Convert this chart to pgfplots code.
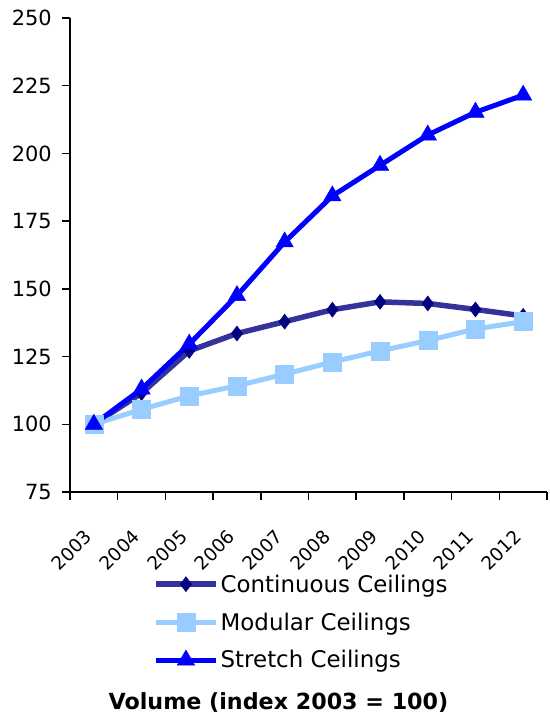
\documentclass[border=0pt]{standalone}
\usepackage{pgfplots}
\pgfplotsset{compat=1.18}
\usepackage{fontspec}
\setmainfont{DejaVu Sans}
\definecolor{contline}{HTML}{333399}
\definecolor{contmark}{HTML}{000080}
\definecolor{modcol}{HTML}{99CCFF}
\definecolor{strcol}{HTML}{0000FF}
\newcommand{\xl}[1]{\fontsize{18.5}{18.5}\selectfont #1}
\begin{document}
\begin{tikzpicture}
\begin{axis}[
  scale only axis,
  width=477bp, height=474bp,
  xmin=-0.5, xmax=9.5, ymin=75, ymax=250,
  clip=false,
  axis x line*=bottom, axis y line*=left,
  axis line style={line width=1.5bp, black, -},
  tick align=outside,
  ytick={75,100,...,250},
  yticklabels={75,100,125,150,175,200,225,250},
  xtick={0,...,9},
  xticklabels={\xl{2003},\xl{2004},\xl{2005},\xl{2006},\xl{2007},\xl{2008},\xl{2009},\xl{2010},\xl{2011},\xl{2012}},
  major x tick style={draw=none},
  minor xtick={-0.5,0.5,...,9.5},
  minor tick length=8bp, major tick length=8bp,
  tick style={line width=1.5bp, black},
  tick label style={font=\fontsize{21}{21}\selectfont},
  xticklabel style={xshift=-10.5bp, yshift=-27bp, rotate=45, anchor=north east, inner sep=1bp},
  yticklabel style={inner sep=1bp, xshift=-9bp},
  legend style={draw=none, fill=none, at={(0.174,-0.17)}, anchor=north west,
    font=\fontsize{23}{23}\selectfont, row sep=15bp, inner sep=0pt,
    /tikz/every even column/.append style={column sep=4bp}},
  legend cell align=left,
  legend image code/.code={\draw[mark repeat=2,mark phase=2,#1] plot coordinates {(0bp,0bp) (30bp,0bp) (60bp,0bp)};},
]
\addplot[color=contline, line width=5.5bp, mark=diamond*, mark size=7.5bp,
  mark options={fill=contmark, draw=contmark, line width=0.5bp}]
  coordinates {(0,100) (1,111.5) (2,127.1) (3,133.5) (4,137.9) (5,142.3) (6,145.2) (7,144.6) (8,142.4) (9,140)};
\addlegendentry{Continuous Ceilings}
\addplot[color=modcol, line width=5bp, mark=square*, mark size=9bp,
  mark options={fill=modcol, draw=modcol, line width=0.5bp}]
  coordinates {(0,100) (1,105.5) (2,110.5) (3,114.2) (4,118.5) (5,123) (6,127.1) (7,130.9) (8,135.2) (9,137.9)};
\addlegendentry{Modular Ceilings}
\addplot[color=strcol, line width=5bp, mark=triangle*, mark size=10bp,
  mark options={fill=strcol, draw=strcol, line width=0.5bp}]
  coordinates {(0,100) (1,113) (2,129.6) (3,147.5) (4,167.3) (5,184.3) (6,195.6) (7,206.8) (8,215.2) (9,221.5)};
\addlegendentry{Stretch Ceilings}
\node[font=\fontsize{22.3}{22.3}\selectfont\bfseries] at (axis description cs:0.437,-0.445) {Volume (index 2003 = 100)};
\coordinate (A) at (axis cs:-0.5,75);
\coordinate (B) at (axis cs:9.5,250);
\end{axis}
\pgfresetboundingbox
\path[use as bounding box] ([xshift=-70bp,yshift=-224bp]A) rectangle ([xshift=3bp,yshift=18bp]B);
\end{tikzpicture}
\end{document}
